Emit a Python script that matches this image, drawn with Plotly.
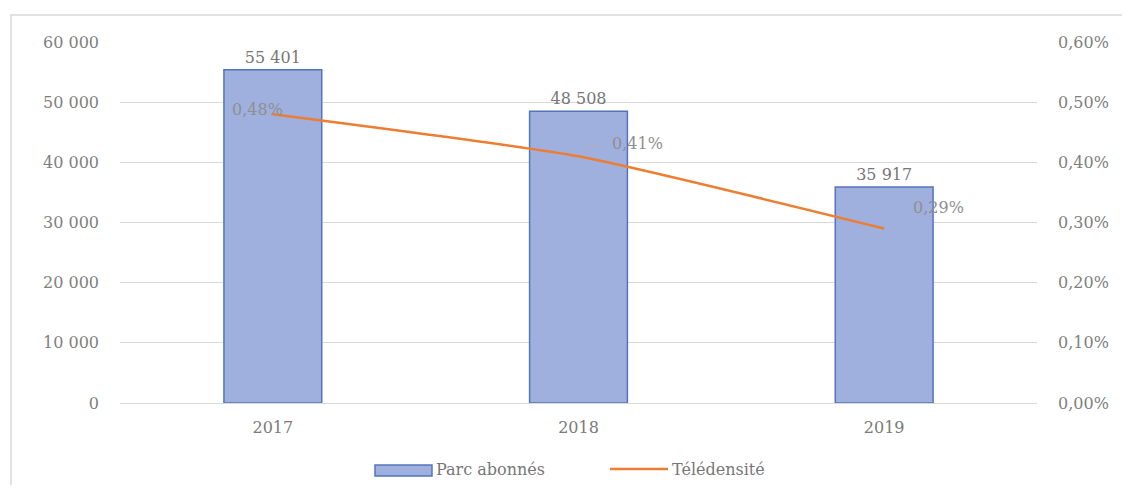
import plotly.graph_objects as go

years = ["2017", "2018", "2019"]
parc_abonnes = [55401, 48508, 35917]
teledensite = [0.0048, 0.0041, 0.0029]
tele_labels = ["0,48%", "0,41%", "0,29%"]
label_dx = [-15, 59, 54]
label_dy = [5, 13, 21]
series_names = ["Parc abonnés", "Télédensité"]

FONT = "DejaVu Serif"
GRAY = "#808080"
BAR_FILL = "#9fb0df"
BAR_LINE = "#5573bd"
LINE_COL = "#ED7D31"
FS = 16

OFF = 8
W, H = 1114, 477
PL, PR, PT, PB = 120, 1037, 42, 403   # plot area on page
L = PL - OFF
R = OFF + W - PR
T = PT - OFF
B = OFF + H - PB
pw, ph = PR - PL, PB - PT

def px_x(p):
    return (p - PL) / pw

def px_y(p):
    return (PB - p) / ph

fig = go.Figure()
fig.add_trace(go.Bar(
    x=years, y=parc_abonnes, name=series_names[0],
    marker=dict(color=BAR_FILL, line=dict(color=BAR_LINE, width=1.5)),
    width=0.32,
    text=parc_abonnes, texttemplate="%{y:,}", textposition="outside",
    textfont=dict(family=FONT, size=FS, color="#777777"),
    cliponaxis=False, showlegend=False,
))
fig.add_trace(go.Scatter(
    x=years, y=teledensite, name=series_names[1], yaxis="y2",
    mode="lines", line=dict(color=LINE_COL, width=2.5, shape="spline", smoothing=0.5),
    showlegend=False,
))

for i, (v, lab, dx, dy) in enumerate(zip(teledensite, tele_labels, label_dx, label_dy)):
    fig.add_annotation(x=i, y=v, xref="x", yref="y2", text=lab, showarrow=False,
                       xshift=dx, yshift=dy,
                       font=dict(family=FONT, size=FS, color="#8f8f8f"))

# leader line for the 2018 label
fig.add_shape(type="path", xref="x", yref="y2", xsizemode="pixel", ysizemode="pixel",
              xanchor=1, yanchor=teledensite[1], path="M 3,4 L 9,10 L 22,10",
              line=dict(color="#b0b0b0", width=1))

# chart area border
fig.add_shape(type="rect", xref="paper", yref="paper",
              x0=px_x(11), x1=px_x(1140), y0=px_y(500), y1=px_y(15),
              line=dict(color="#d9d9d9", width=1.5), fillcolor="rgba(0,0,0,0)", layer="below")

# custom legend
fig.add_shape(type="rect", xref="paper", yref="paper",
              x0=px_x(375), x1=px_x(432), y0=px_y(476), y1=px_y(465),
              fillcolor=BAR_FILL, line=dict(color=BAR_LINE, width=1.5))
fig.add_annotation(xref="paper", yref="paper", x=px_x(434), y=px_y(469), text=series_names[0],
                   showarrow=False, xanchor="left", yanchor="middle",
                   font=dict(family=FONT, size=FS, color="#777777"))
fig.add_shape(type="line", xref="paper", yref="paper",
              x0=px_x(610), x1=px_x(668), y0=px_y(469), y1=px_y(469),
              line=dict(color=LINE_COL, width=2.5))
fig.add_annotation(xref="paper", yref="paper", x=px_x(670), y=px_y(469), text=series_names[1],
                   showarrow=False, xanchor="left", yanchor="middle",
                   font=dict(family=FONT, size=FS, color="#777777"))

fig.update_layout(
    width=W, height=H,
    margin=dict(l=L, r=R, t=T, b=B, autoexpand=False),
    paper_bgcolor="white", plot_bgcolor="white",
    separators=", ",
    font=dict(family=FONT, size=FS, color=GRAY),
    showlegend=False,
    xaxis=dict(type="category", showgrid=False, showline=True, linecolor="#d9d9d9", linewidth=1,
               ticks="", ticklabelstandoff=10,
               tickfont=dict(family=FONT, size=FS, color="#7a7a7a")),
    yaxis=dict(range=[0, 60000], dtick=10000, tickformat=",", showgrid=True,
               gridcolor="#d9d9d9", gridwidth=1, zeroline=False, showline=False,
               ticklabelstandoff=20, tickfont=dict(family=FONT, size=FS, color=GRAY)),
    yaxis2=dict(range=[0, 0.006], dtick=0.001, tickformat=".2%", overlaying="y", side="right",
                showgrid=False, zeroline=False, showline=False,
                ticklabelstandoff=20, tickfont=dict(family=FONT, size=FS, color=GRAY)),
)

fig.write_html("out.html")
